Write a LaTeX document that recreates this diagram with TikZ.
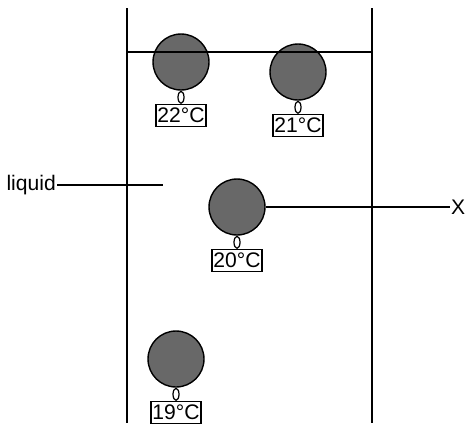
\documentclass[tikz,border=0pt]{standalone}
\usepackage{fontspec}
\setmainfont{Liberation Sans}
\usetikzlibrary{positioning}
\usetikzlibrary{shapes.geometric}
\definecolor{ballgray}{RGB}{104,104,104}
\begin{document}
\begin{tikzpicture}[x=0.02cm,y=-0.02cm,
  ball/.style={draw,circle,fill=ballgray,line width=0.8pt,minimum size=1.12cm,inner sep=0pt},
  bulb/.style={draw,ellipse,fill=white,line width=0.7pt,minimum width=0.12cm,minimum height=0.24cm,inner sep=0pt},
  reading/.style={draw,rectangle,line width=0.7pt,minimum width=1cm,minimum height=0.44cm,inner sep=0pt,font=\fontsize{12}{13}\selectfont},
  tag/.style={inner sep=0.5pt,font=\fontsize{12}{13}\selectfont},
  wall/.style={line width=1.1pt},
  pointer/.style={line width=0.6pt}]
\useasboundingbox (0,0) rectangle (465,423);
% container
\draw[wall] (127,8) -- (127,423);
\draw[wall] (372,8) -- (372,423);
% thermometers
\node[ball] (ball22) at (181,62) {};
\node[bulb,below=0pt of ball22] (bulb22) {};
\node[reading,below=0pt of bulb22] (temp22) {22°C};
\node[ball] (ball21) at (298,72) {};
\node[bulb,below=0pt of ball21] (bulb21) {};
\node[reading,below=0pt of bulb21] (temp21) {21°C};
\node[ball] (ball20) at (237,207) {};
\node[bulb,below=0pt of ball20] (bulb20) {};
\node[reading,below=0pt of bulb20] (temp20) {20°C};
\node[ball] (ball19) at (176,359) {};
\node[bulb,below=0pt of ball19] (bulb19) {};
\node[reading,below=0pt of bulb19] (temp19) {19°C};
% liquid surface
\draw[wall] (127,52) -- (372,52);
% labels
\node[tag,anchor=east] (liquid) at (57,185) {liquid};
\coordinate (liqend) at (163,185);
\draw[pointer] (liquid) -- (liqend);
\node[tag,anchor=west] (xlab) at (450,207) {X};
\draw[pointer] (ball20) -- (xlab);
\end{tikzpicture}
\end{document}
